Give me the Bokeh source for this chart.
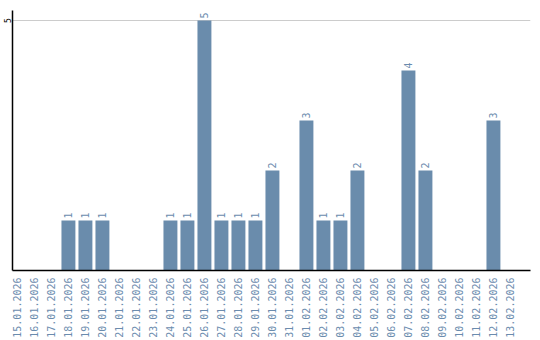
import math
from bokeh.plotting import figure
from bokeh.models import ColumnDataSource, Range1d, FixedTicker
from bokeh.core.properties import value
from bokeh.embed import file_html
from bokeh.resources import INLINE

dates = ["15.01.2026", "16.01.2026", "17.01.2026", "18.01.2026", "19.01.2026",
         "20.01.2026", "21.01.2026", "22.01.2026", "23.01.2026", "24.01.2026",
         "25.01.2026", "26.01.2026", "27.01.2026", "28.01.2026", "29.01.2026",
         "30.01.2026", "31.01.2026", "01.02.2026", "02.02.2026", "03.02.2026",
         "04.02.2026", "05.02.2026", "06.02.2026", "07.02.2026", "08.02.2026",
         "09.02.2026", "10.02.2026", "11.02.2026", "12.02.2026", "13.02.2026"]
counts = [0, 0, 0, 1, 1, 1, 0, 0, 0, 1, 1, 5, 1, 1, 1, 2, 0, 3, 1, 1, 2, 0, 0, 4, 2, 0, 0, 0, 3, 0]
y_ticks = [5]

BAR = "#6a8cac"
LABEL = "#6b8cae"
FONT = "DejaVu Sans Mono"

xs = list(range(len(dates)))
src = ColumnDataSource(dict(x=xs, y=counts))
nz = [i for i, c in enumerate(counts) if c > 0]
lsrc = ColumnDataSource(dict(x=[xs[i] for i in nz], y=[counts[i] for i in nz],
                             lab=[str(counts[i]) for i in nz]))

p = figure(width=540, height=340, output_backend="svg", toolbar_location=None,
           x_range=Range1d(-0.29, 30.18), y_range=Range1d(0, 5.2),
           min_border_left=0, min_border_right=10, min_border_top=10, min_border_bottom=0)
p.outline_line_color = None
p.background_fill_color = "white"
p.border_fill_color = "white"

p.vbar(x="x", top="y", width=0.82, bottom=0, source=src, fill_color=BAR, line_color=None)
p.text(x="x", y="y", text="lab", source=lsrc, angle=math.pi / 2, y_offset=-2,
       text_align="left", text_baseline="middle", text_color=LABEL,
       text_font=value(FONT), text_font_size="10px")

p.xgrid.visible = False
p.ygrid.ticker = FixedTicker(ticks=y_ticks)
p.ygrid.grid_line_color = "#cccccc"

p.xaxis.ticker = FixedTicker(ticks=xs)
p.xaxis.major_label_overrides = {i: d for i, d in enumerate(dates)}
p.xaxis.major_label_orientation = math.pi / 2
p.xaxis.major_label_text_color = LABEL
p.xaxis.major_label_text_font = FONT
p.xaxis.major_label_text_font_size = "10px"
p.xaxis.major_label_standoff = 7
p.xaxis.major_tick_out = 0
p.xaxis.major_tick_in = 0
p.xaxis.minor_tick_out = 0
p.xaxis.minor_tick_in = 0
p.xaxis.major_tick_line_color = None
p.xaxis.minor_tick_line_color = None
p.xaxis.axis_line_color = "black"
p.xaxis.axis_line_width = 1.5

p.yaxis.ticker = FixedTicker(ticks=y_ticks)
p.yaxis.major_label_orientation = "parallel"
p.yaxis.major_label_text_color = "black"
p.yaxis.major_label_text_font = FONT
p.yaxis.major_label_text_font_size = "8px"
p.yaxis.major_label_standoff = 2
p.yaxis.major_tick_out = 0
p.yaxis.major_tick_in = 0
p.yaxis.minor_tick_out = 0
p.yaxis.minor_tick_in = 0
p.yaxis.major_tick_line_color = None
p.yaxis.minor_tick_line_color = None
p.yaxis.axis_line_color = "black"
p.yaxis.axis_line_width = 1.5

open("out.html", "w").write(file_html(p, INLINE))
